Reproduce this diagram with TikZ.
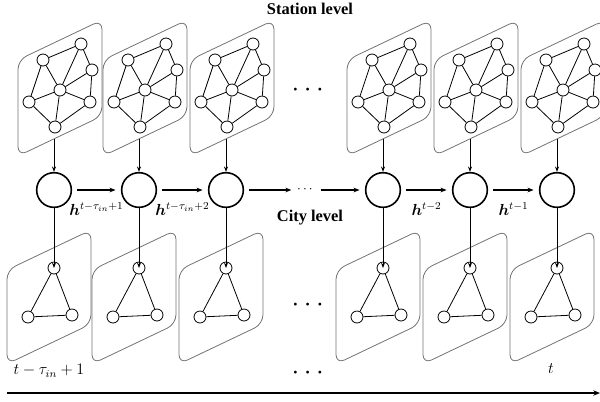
\documentclass[tikz,border=0pt]{standalone}
\usepackage{amsmath,bm}
\usepackage{fontspec}
\setmainfont{Liberation Serif}
\usetikzlibrary{arrows.meta}

\begin{document}
\begin{tikzpicture}[x=0.75pt,y=-0.75pt,line width=0.6pt,
    panel/.style={draw=black!55,line width=0.6pt,rounded corners=7pt},
    stn/.style={circle,draw,fill=white,inner sep=0pt,minimum size=9pt},
    gru/.style={circle,draw,line width=1.2pt,inner sep=0pt,minimum size=26pt},
    flow/.style={-{Stealth[length=4.5pt,width=3.5pt]},line width=0.9pt,shorten >=4pt,shorten <=4pt},
    feed/.style={-{Stealth[length=4pt,width=3pt]},line width=0.7pt},
    hlab/.style={font=\fontsize{12}{14}\selectfont},
    level/.style={font=\fontsize{12.3}{14}\selectfont\bfseries},
    bigdots/.style={font=\fontsize{20}{20}\selectfont,inner sep=0pt}]
  \useasboundingbox (0,0) rectangle (600,401);
  \foreach \i/\cx in {1/54,2/139,3/226,4/383,5/470,6/557} {
    \begin{scope}[shift={(\cx,0)}]
      % station graph
      \draw[panel] (-36,156) -- (-36,60) -- (48,20) -- (48,116) -- cycle;
      \node[stn] (a\i) at (-11,60) {};
      \node[stn] (b\i) at (27,44) {};
      \node[stn] (c\i) at (38,70) {};
      \node[stn] (d\i) at (6,90) {};
      \node[stn] (e\i) at (-25,102) {};
      \node[stn] (f\i) at (36,102) {};
      \node[stn] (g\i) at (1,127) {};
      \foreach \u/\v in {a/b,b/c,c/f,f/g,g/e,e/a,d/a,d/b,d/c,d/e,d/f,d/g}
        \draw (\u\i) -- (\v\i);
      \coordinate (o\i) at (0,139);
      \node[gru] (h\i) at (0,190) {};
      \draw[feed] (o\i) -- (h\i);
      % city graph
      \draw[panel] (-47,364) -- (-47,270) -- (37,230) -- (37,324) -- cycle;
      \node[stn] (p\i) at (0,268) {};
      \node[stn] (q\i) at (-26,317) {};
      \node[stn] (r\i) at (18,315) {};
      \draw (p\i) -- (q\i) -- (r\i) -- (p\i);
      \draw[feed] (h\i) -- (p\i.center);
    \end{scope}
  }
  \node[inner sep=0pt] (mid) at (306,190) {$\cdots$};
  \draw[flow] (h1) -- node[hlab,below=6pt] {$\bm{h}^{t-\tau_{in}+1}$} (h2);
  \draw[flow] (h2) -- node[hlab,below=6pt] {$\bm{h}^{t-\tau_{in}+2}$} (h3);
  \draw[flow] (h3) -- (mid);
  \draw[flow] (mid) -- (h4);
  \draw[flow] (h4) -- node[hlab,below=6pt] {$\bm{h}^{t-2}$} (h5);
  \draw[flow] (h5) -- node[hlab,below=6pt] {$\bm{h}^{t-1}$} (h6);
  \node[level] (station) at (310,9) {Station level};
  \node[level] (city) at (310,218) {City level};
  \node[bigdots] (gap1) at (310,90) {$\cdots$};
  \node[bigdots] (gap2) at (310,305) {$\cdots$};
  \node[bigdots] (gap3) at (310,373) {$\cdots$};
  \node[hlab] (tfirst) at (49,371) {$t-\tau_{in}+1$};
  \node[hlab] (tlast) at (551,369) {$t$};
  % time axis
  \coordinate (t0) at (7,393);
  \coordinate (t1) at (600,393);
  \draw[-{Stealth[length=5pt,width=4pt]},line width=1.4pt] (t0) -- (t1);
\end{tikzpicture}
\end{document}
